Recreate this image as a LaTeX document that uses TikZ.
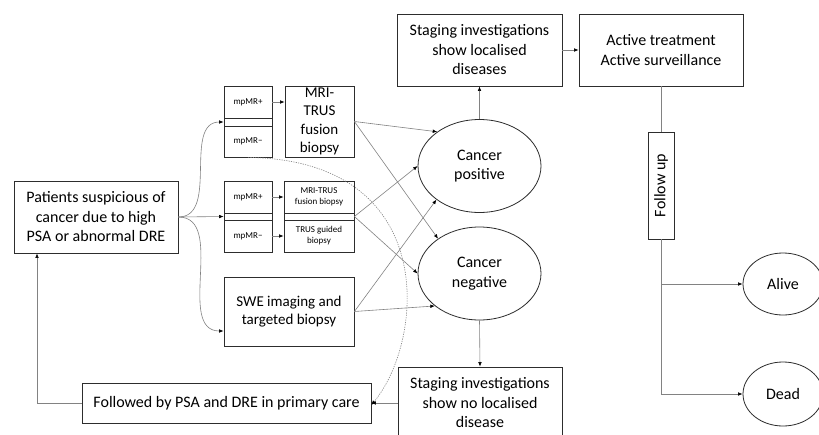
\documentclass[tikz,border=0pt]{standalone}
\usepackage{fontspec}
\setmainfont{Carlito}
\usepackage{graphicx}
\usetikzlibrary{arrows.meta,shapes.geometric}
\definecolor{linec}{RGB}{130,130,130}
\definecolor{boxc}{RGB}{45,45,45}
\newcommand\fbig{\fontsize{16}{19.5}\selectfont}
\newcommand\fmid{\fontsize{15}{18.3}\selectfont}
\newcommand\fsml{\fontsize{9}{11}\selectfont}
\begin{document}
\begin{tikzpicture}[x=1pt,y=-1pt,
  box/.style={draw=boxc, line width=0.8pt, rectangle, inner sep=0pt, align=center, font=\fbig},
  ell/.style={draw=boxc, line width=0.8pt, ellipse, inner sep=0pt, align=center, font=\fbig},
  conn/.style={draw=linec, line width=0.6pt, -{Latex[length=4.5pt,width=3.6pt,color=black]}},
  plain/.style={draw=linec, line width=0.6pt},
  dotc/.style={draw=linec, line width=0.6pt, dash pattern=on 1.2pt off 1.2pt, -{Latex[length=4.5pt,width=3.6pt,color=black]}}]
\path[use as bounding box, clip] (0,0) rectangle (819,434);
\fill[white] (0,0) rectangle (819,434);

% nodes
\node[box, minimum width=164, minimum height=72] (pat) at (96,217) {Patients suspicious of\\cancer due to high\\PSA or abnormal DRE};

\node[box, minimum width=48, minimum height=32, font=\fsml] (g1p) at (248,102) {mpMR+};
\node[box, minimum width=48, minimum height=8] (g1s) at (248,122) {};
\node[box, minimum width=48, minimum height=31, font=\fsml] (g1m) at (248,141.5) {mpMR\textminus};
\node[box, minimum width=69, minimum height=71, font=\fmid] (g1r) at (319.5,121.5) {MRI-\\TRUS\\fusion\\biopsy};

\node[box, minimum width=48, minimum height=32, font=\fsml] (g2p) at (248,197) {mpMR+};
\node[box, minimum width=48, minimum height=7] (g2s) at (248,216.5) {};
\node[box, minimum width=48, minimum height=32, font=\fsml] (g2m) at (248,236) {mpMR\textminus};
\node[box, minimum width=70, minimum height=32, font=\fsml] (r2p) at (319,197) {MRI-TRUS\\fusion biopsy};
\node[box, minimum width=70, minimum height=7] (r2s) at (319,216.5) {};
\node[box, minimum width=70, minimum height=32, font=\fsml] (r2m) at (319,236) {TRUS guided\\biopsy};

\node[box, minimum width=130, minimum height=69, font=\fmid] (swe) at (289,311.5) {SWE imaging and\\targeted biopsy};

\node[ell, minimum width=123, minimum height=93] (pos) at (479.5,166) {Cancer\\positive};
\node[ell, minimum width=123, minimum height=93] (neg) at (479.5,273.5) {Cancer\\negative};

\node[box, minimum width=165, minimum height=72] (stL) at (479.5,50) {Staging investigations\\show localised\\diseases};
\node[box, minimum width=164, minimum height=72] (act) at (661,50) {Active treatment\\Active surveillance};
\node[box, minimum width=26, minimum height=107] (fu) at (661,185.5) {\rotatebox{90}{Follow up}};

\node[ell, minimum width=80, minimum height=62] (alive) at (783,284) {Alive};
\node[ell, minimum width=80, minimum height=64] (dead) at (783,394) {Dead};

\node[box, minimum width=164, minimum height=72] (stN) at (480,403) {Staging investigations\\show no localised\\disease};
\node[box, minimum width=289, minimum height=40] (fol) at (226.5,403) {Followed by PSA and DRE in primary care};

\coordinate (ret) at (37,403);
\coordinate (br1) at (661,284);
\coordinate (br2) at (661,394);

% connectors
\draw[conn] (pat.east) to[out=0,in=180] (g1s.west);
\draw[conn] (pat.east) -- (g2s.west);
\draw[conn] (pat.east) to[out=0,in=180] ([yshift=-19.5]swe.west);

\draw[conn] (g1p.east) -- (g1p.east -| g1r.west);
\draw[conn] (g2p.east) -- (r2p.west);
\draw[conn] (g2m.east) -- (r2m.west);

\draw[conn] (g1r.east) -- (pos.141);
\draw[conn] (g1r.east) -- (neg.140);
\draw[conn] (r2s.east) -- (pos.west);
\draw[conn] (r2s.east) -- (neg.west);
\draw[conn] (swe.east) -- (pos.218);
\draw[conn] (swe.east) -- (neg.216);

\draw[conn] (pos.north) -- (stL.south);
\draw[conn] (stL.east) -- (act.west);
\draw[plain] (act.south) -- (fu.north);
\draw[plain] (fu.south) -- (br2);
\draw[conn] (br1) -- (alive.west);
\draw[conn] (br2) -- (dead.west);

\draw[conn] (neg.south) -- (stN.north);
\draw[conn] (stN.west) -- (fol.east);
\draw[plain] (fol.west) -- (ret);
\draw[conn] (ret) -- (ret |- pat.south);

\draw[dotc] (g1m.south) .. controls (440,160) and (425,340) .. ([yshift=-2]fol.east);
\end{tikzpicture}
\end{document}
